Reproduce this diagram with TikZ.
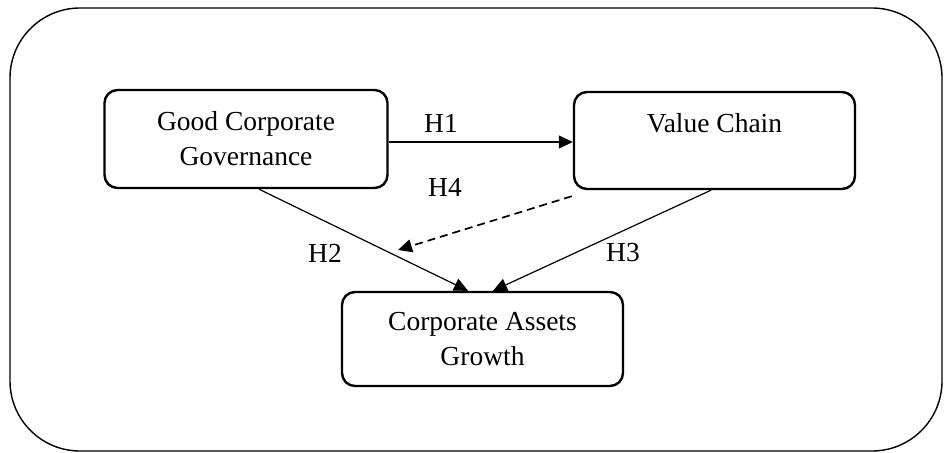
\documentclass[tikz,border=0pt]{standalone}
\usepackage{fontspec}
\setmainfont{Liberation Serif}
\usetikzlibrary{arrows.meta,calc}
\begin{document}
\begin{tikzpicture}[x=1pt,y=-1pt,
  box/.style={draw,line width=2.4pt,rounded corners=13pt,align=center,inner sep=0pt,
    font=\fontsize{27.5}{35}\selectfont},
  lbl/.style={inner sep=0pt,font=\fontsize{27.5}{35}\selectfont},
  conn/.style={line width=1.2pt,-{Triangle[length=14pt,width=13pt]}},
  dconn/.style={conn,dashed,dash pattern=on 8pt off 5pt,line width=1.7pt}]
\useasboundingbox (0,0) rectangle (944,452);
\draw[line width=1.4pt,rounded corners=70pt] (10,8) rectangle (942,451);
\node[box,minimum width=283pt,minimum height=98pt] (g) at (246,139) {Good Corporate\\Governance};
\node[box,minimum width=281pt,minimum height=97pt] (v) at (714.5,140.5) {Value Chain\\ ~};
\node[box,minimum width=281pt,minimum height=94pt] (c) at (482.5,339) {Corporate Assets\\Growth};
\coordinate (d4end) at (398,250);
\draw[conn] ([yshift=-3pt]g.east) -- ([yshift=-3pt]g.east -| v.west);
\draw[conn] ([xshift=13pt]g.south) -- ([xshift=-14.5pt]c.north);
\draw[conn] ([xshift=-3.5pt]v.south) -- ([xshift=10.5pt]c.north);
\draw[dconn] ([shift={(-1,6)}]v.south west) -- (d4end);
\node[lbl] (h1) at (441,123) {H1};
\node[lbl] (h4) at (445,187) {H4};
\node[lbl] (h2) at (325,253) {H2};
\node[lbl] (h3) at (623,253) {H3};
\end{tikzpicture}
\end{document}
